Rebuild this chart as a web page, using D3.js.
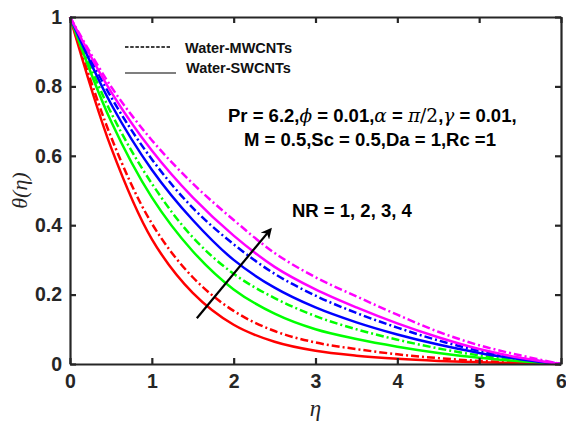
<!DOCTYPE html>
<html>
<head>
<meta charset="utf-8">
<script src="https://cdn.jsdelivr.net/npm/d3@7"></script>
<style>
  html, body { margin: 0; padding: 0; background: #fff; }
  svg { display: block; }
  .tick text { font-family: "Liberation Sans", Arial, sans-serif; font-weight: bold; }
</style>
</head>
<body>
<svg id="chart" width="566" height="430"></svg>
<script>
// Similarity variable eta and the temperature profiles theta(eta)
const eta = [0, 0.5, 1, 1.5, 2, 2.5, 3, 3.5, 4, 4.5, 5, 5.5, 6];

// Water-SWCNTs (solid lines), NR = 1..4
const swNR1 = [1, 0.625, 0.36, 0.205, 0.113, 0.064, 0.038, 0.024, 0.015, 0.009, 0.005, 0.002, 0];
const swNR2 = [1, 0.70, 0.48, 0.325, 0.215, 0.145, 0.100, 0.072, 0.05, 0.032, 0.018, 0.008, 0];
const swNR3 = [1, 0.75, 0.56, 0.415, 0.30, 0.22, 0.163, 0.12, 0.085, 0.056, 0.032, 0.014, 0];
const swNR4 = [1, 0.785, 0.615, 0.48, 0.37, 0.28, 0.215, 0.163, 0.117, 0.077, 0.043, 0.018, 0];

// Water-MWCNTs (dash-dot lines), NR = 1..4
const mwNR1 = [1, 0.655, 0.405, 0.25, 0.153, 0.095, 0.062, 0.043, 0.028, 0.017, 0.009, 0.004, 0];
const mwNR2 = [1, 0.725, 0.52, 0.365, 0.26, 0.19, 0.138, 0.10, 0.07, 0.045, 0.025, 0.011, 0];
const mwNR3 = [1, 0.77, 0.59, 0.45, 0.345, 0.26, 0.197, 0.147, 0.105, 0.068, 0.038, 0.016, 0];
const mwNR4 = [1, 0.80, 0.645, 0.52, 0.415, 0.32, 0.25, 0.195, 0.142, 0.093, 0.054, 0.025, 0];

const nrValues = [1, 2, 3, 4];
const nrColors = ["#ff0000", "#00ff00", "#0000ff", "#ff00ff"];
const xTicks = [0, 1, 2, 3, 4, 5, 6];
const yTicks = [0, 0.2, 0.4, 0.6, 0.8, 1];
const yTickLabels = ["0", "0.2", "0.4", "0.6", "0.8", "1"];

const svg = d3.select("#chart");
const plotLeft = 70, plotRight = 561, plotTop = 17, plotBottom = 364;
const axisColor = "#262626";

const x = d3.scaleLinear().domain([0, 6]).range([plotLeft, plotRight]);
const y = d3.scaleLinear().domain([0, 1]).range([plotBottom, plotTop]);

const line = d3.line()
  .x((d, i) => x(eta[i]))
  .y(d => y(d))
  .curve(d3.curveCatmullRom.alpha(0.5));

const series = [
  { v: mwNR1, c: nrColors[0], dash: true },
  { v: swNR1, c: nrColors[0], dash: false },
  { v: mwNR2, c: nrColors[1], dash: true },
  { v: swNR2, c: nrColors[1], dash: false },
  { v: mwNR3, c: nrColors[2], dash: true },
  { v: swNR3, c: nrColors[2], dash: false },
  { v: mwNR4, c: nrColors[3], dash: true },
  { v: swNR4, c: nrColors[3], dash: false }
];

const plot = svg.append("g");
series.forEach(s => {
  plot.append("path")
    .attr("d", line(s.v))
    .attr("fill", "none")
    .attr("stroke", s.c)
    .attr("stroke-width", 2.5)
    .attr("stroke-dasharray", s.dash ? "8,3,2,3" : null);
});

// Axes with inward ticks on all four sides
const tickLen = 6;
const gx = svg.append("g").attr("transform", `translate(0,${plotBottom})`)
  .call(d3.axisBottom(x).tickValues(xTicks).tickFormat(d3.format("d")).tickSizeInner(-tickLen).tickSizeOuter(0).tickPadding(10));
const gy = svg.append("g").attr("transform", `translate(${plotLeft},0)`)
  .call(d3.axisLeft(y).tickValues(yTicks).tickFormat((d, i) => yTickLabels[i]).tickSizeInner(-tickLen).tickSizeOuter(0).tickPadding(8));
const gt = svg.append("g").attr("transform", `translate(0,${plotTop})`)
  .call(d3.axisTop(x).tickValues(xTicks).tickFormat("").tickSizeInner(-tickLen).tickSizeOuter(0));
const gr = svg.append("g").attr("transform", `translate(${plotRight},0)`)
  .call(d3.axisRight(y).tickValues(yTicks).tickFormat("").tickSizeInner(-tickLen).tickSizeOuter(0));

[gx, gy, gt, gr].forEach(g => {
  g.select(".domain").attr("stroke", axisColor).attr("stroke-width", 2.2);
  g.selectAll(".tick line").attr("stroke", axisColor).attr("stroke-width", 2.2);
  g.selectAll(".tick text").attr("fill", axisColor).style("font-size", "19.5px");
});

// Axis titles
svg.append("text")
  .attr("x", (plotLeft + plotRight) / 2).attr("y", 416)
  .attr("text-anchor", "middle")
  .style("font-family", "'Liberation Serif', 'Times New Roman', serif")
  .style("font-style", "italic").style("font-size", "23px")
  .attr("fill", axisColor)
  .text("η");
svg.append("text")
  .attr("transform", `translate(27,${(plotTop + plotBottom) / 2}) rotate(-90)`)
  .attr("text-anchor", "middle")
  .style("font-family", "'Liberation Serif', 'Times New Roman', serif")
  .style("font-style", "italic").style("font-size", "22px")
  .attr("fill", axisColor)
  .text("θ(η)");

// Legend
const legend = svg.append("g");
legend.append("line").attr("x1", 125).attr("x2", 170).attr("y1", 47).attr("y2", 47)
  .attr("stroke", "#000").attr("stroke-width", 1.6).attr("stroke-dasharray", "3.5,1.7");
legend.append("line").attr("x1", 125).attr("x2", 176).attr("y1", 73).attr("y2", 73)
  .attr("stroke", "#000").attr("stroke-width", 1.2);
const legendFont = sel => sel
  .style("font-family", "'Liberation Sans', Arial, sans-serif")
  .style("font-weight", "bold").style("font-size", "14.5px").attr("fill", "#111");
legend.append("text").attr("x", 185).attr("y", 52.5).text("Water-MWCNTs").call(legendFont);
legend.append("text").attr("x", 186).attr("y", 72.5).text("Water-SWCNTs").call(legendFont);

// Parameter annotation
const annFont = sel => sel
  .style("font-family", "'Liberation Sans', Arial, sans-serif")
  .style("font-weight", "bold").style("font-size", "18.5px").attr("fill", "#000");
const greek = sel => sel
  .style("font-family", "'DejaVu Serif', 'Liberation Serif', serif")
  .style("font-style", "italic").style("font-weight", "normal");
const mathUpright = sel => sel
  .style("font-family", "'DejaVu Serif', 'Liberation Serif', serif")
  .style("font-style", "normal").style("font-weight", "normal");

const l1 = svg.append("text").attr("x", 228).attr("y", 122).call(annFont);
l1.append("tspan").text("Pr = 6.2,");
l1.append("tspan").text("ϕ").call(greek);
l1.append("tspan").text(" = 0.01,");
l1.append("tspan").text("α").call(greek);
l1.append("tspan").text(" = ");
l1.append("tspan").text("π").call(greek);
l1.append("tspan").text("/2").call(mathUpright);
l1.append("tspan").text(",");
l1.append("tspan").text("γ").call(greek);
l1.append("tspan").text(" = 0.01,");

svg.append("text").attr("x", 244).attr("y", 146).call(annFont)
  .text("M = 0.5,Sc = 0.5,Da = 1,Rc =1");

svg.append("text").attr("x", 292).attr("y", 217).call(annFont)
  .text("NR = " + nrValues.join(", "));

// Arrow showing increasing NR
const arrowFrom = [1.55, 0.132], arrowTo = [2.45, 0.388];
svg.append("defs").append("marker")
  .attr("id", "head").attr("viewBox", "0 0 10 10")
  .attr("refX", 8).attr("refY", 5)
  .attr("markerWidth", 5).attr("markerHeight", 5)
  .attr("orient", "auto")
  .append("path").attr("d", "M0,0 L10,5 L0,10 L3,5 Z").attr("fill", "#000");
svg.append("line")
  .attr("x1", x(arrowFrom[0])).attr("y1", y(arrowFrom[1]))
  .attr("x2", x(arrowTo[0])).attr("y2", y(arrowTo[1]))
  .attr("stroke", "#000").attr("stroke-width", 2.2)
  .attr("marker-end", "url(#head)");
</script>
</body>
</html>
